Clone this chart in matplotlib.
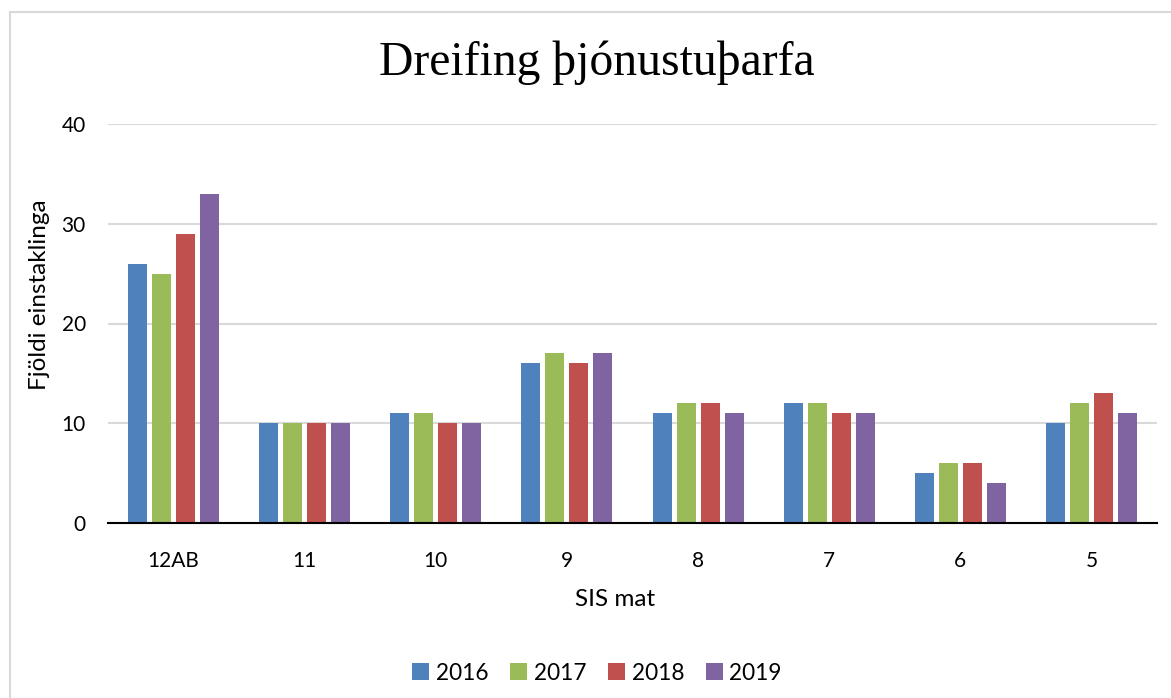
import matplotlib
matplotlib.use("Agg")
import matplotlib.pyplot as plt
import numpy as np
from matplotlib.patches import Rectangle

categories = ["12AB", "11", "10", "9", "8", "7", "6", "5"]
years = ["2016", "2017", "2018", "2019"]
v2016 = [26, 10, 11, 16, 11, 12, 5, 10]
v2017 = [25, 10, 11, 17, 12, 12, 6, 12]
v2018 = [29, 10, 10, 16, 12, 11, 6, 13]
v2019 = [33, 10, 10, 17, 11, 11, 4, 11]
series = [v2016, v2017, v2018, v2019]
colors = ["#4F81BD", "#9BBB59", "#C0504D", "#8064A2"]

W, H = 1171, 698
fig = plt.figure(figsize=(W / 100, H / 100), dpi=100)
fig.patch.set_facecolor("white")

# outer border (left & top visible)
fig.add_artist(Rectangle((10 / W, -0.1), 1.2, 1 - 12 / H + 0.1, transform=fig.transFigure,
                         fill=False, edgecolor="#D9D9D9", linewidth=1.5))

left, right = 108 / W, 1157 / W
bottom, top = 1 - 523 / H, 1 - 124 / H
ax = fig.add_axes([left, bottom, right - left, top - bottom])

font = "Lato"
x = np.arange(len(categories))
bw = 19 / 131
step = 24 / 131
for i, (vals, c, yr) in enumerate(zip(series, colors, years)):
    ax.bar(x + (i - 1.5) * step, vals, width=bw, color=c, label=yr, zorder=3)

ax.set_xlim(-0.5, len(categories) - 0.5)
ax.set_ylim(0, 40)
ax.set_yticks([0, 10, 20, 30, 40])
ax.yaxis.grid(True, color="#D9D9D9", linewidth=1.5, zorder=0)
for s in ["top", "right", "left"]:
    ax.spines[s].set_visible(False)
ax.spines["bottom"].set_color("black")
ax.spines["bottom"].set_linewidth(1.5)
ax.spines["bottom"].set_zorder(4)
ax.tick_params(axis="both", length=0, labelsize=15)
ax.tick_params(axis="y", pad=16)
ax.tick_params(axis="x", pad=20)
ax.set_xticks(x)
ax.set_xticklabels(categories, fontfamily=font)
for lab in ax.get_yticklabels():
    lab.set_fontfamily(font)

fig.text(615 / W, 1 - 599 / H, "SIS mat", ha="center", va="center",
         fontsize=17.5, fontfamily=font)
fig.text(40 / W, 1 - 295 / H, "Fjöldi einstaklinga", ha="center", va="center",
         rotation=90, fontsize=17.5, fontfamily=font)

fig.text(597 / W, 1 - 75 / H, "Dreifing þjónustuþarfa", ha="center", va="baseline",
         fontsize=34.3, fontfamily="Liberation Serif")

handles, labels = ax.get_legend_handles_labels()
fig.legend(handles, labels, loc="center", bbox_to_anchor=(597 / W, 1 - 673 / H), ncol=4,
           frameon=False, prop={"family": font, "size": 16.3}, handlelength=0.75,
           handleheight=0.75, handletextpad=0.3, columnspacing=0.95)

fig.savefig("out.png", dpi=100)
